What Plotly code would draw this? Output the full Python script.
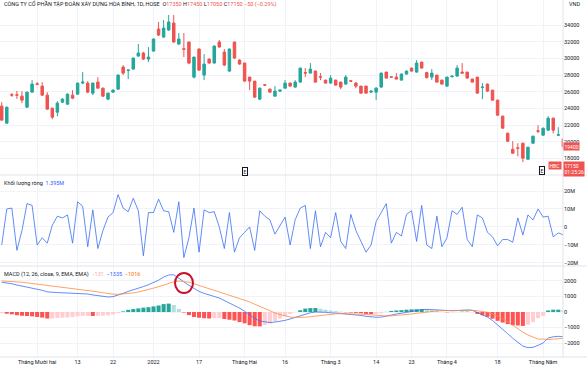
import plotly.graph_objects as go

# ---------------- data ----------------
opens = [24280, 22240, 25650, 25650, 25480, 24160, 25960, 26950, 26680, 25600,
         24040, 23560, 24760, 24520, 25600, 25720, 27040, 27040, 25840, 27160,
         26440, 25120, 25960, 26320, 28960, 28550, 28720, 30280, 30640, 29920,
         30880, 33520, 32560, 33400, 34240, 31720, 31150, 31960, 27760, 31120,
         28000, 29920, 29440, 31960, 30760, 28480, 31960, 29800, 29440, 27760,
         27280, 25120, 26850, 26320, 25480, 26080, 26440, 27040, 26560, 27160,
         28300, 28240, 28480, 27800, 27400, 27040, 27400, 27160, 26920, 27320,
         27040, 26680, 26680, 25960, 25960, 26560, 28360, 27800, 27760, 27400,
         28120, 28840, 28360, 29560, 28300, 27760, 28000, 27400, 26680, 27800,
         27880, 28360, 28360, 27520, 27760, 26520, 26920, 26200, 25000, 23080,
         21040, 19120, 19280, 19840, 17920, 19840, 21320, 20800, 21400, 22840,
         20800, 20350]
highs = [24760, 24200, 25850, 26100, 26080, 26000, 27400, 27160, 27160, 25960,
         24100, 24880, 25240, 25800, 26200, 27100, 28360, 27280, 27100, 27760,
         26500, 25900, 26300, 28100, 29200, 28720, 30100, 31720, 30800, 31360,
         32400, 34360, 34600, 35200, 35200, 33040, 33040, 32000, 30200, 31200,
         30520, 30000, 31550, 32200, 31120, 31200, 32000, 29900, 29500, 27800,
         27300, 26500, 26900, 26400, 26680, 26250, 27400, 27100, 27400, 28900,
         28840, 29440, 28550, 28240, 27450, 28000, 27450, 27200, 28000, 27400,
         27160, 26700, 26700, 26150, 26560, 28300, 28400, 27850, 28240, 28200,
         28550, 28900, 29800, 29600, 28400, 28720, 28050, 27450, 27800, 27950,
         29200, 29440, 28400, 27600, 27800, 27040, 27000, 26250, 25050, 23150,
         21100, 20080, 19840, 19900, 19400, 20750, 22000, 21700, 23080, 22900,
         21760, 20400]
lows = [22600, 22200, 25400, 25150, 24640, 24100, 25900, 26800, 25480, 23900,
        22720, 23080, 24640, 24450, 25120, 25650, 26920, 25840, 25600, 26400,
        25360, 25000, 25900, 26250, 28000, 27520, 28650, 30200, 29800, 29560,
        30800, 32680, 32440, 33300, 31900, 31600, 30160, 29300, 27600, 28500,
        27400, 29400, 29400, 31300, 29080, 28400, 29950, 29250, 27200, 26200,
        25300, 25000, 26700, 25900, 25400, 26000, 26350, 26600, 26500, 27100,
        27760, 28200, 27100, 27400, 27000, 27000, 26750, 26320, 26850, 27200,
        26440, 25800, 25800, 25900, 25000, 26500, 27600, 27700, 27480, 27350,
        28050, 28400, 28300, 28800, 27600, 27400, 27100, 26850, 26600, 27750,
        27800, 28200, 27600, 27100, 25800, 25120, 26000, 24950, 23150, 21600,
        20000, 18600, 18280, 17560, 17850, 19800, 21040, 20750, 21350, 21000,
        20680, 19300]
closes = [22600, 24160, 25600, 25600, 25000, 25960, 26920, 26900, 25600, 23920,
          22960, 24640, 25120, 25720, 25240, 27040, 27160, 25960, 27040, 26440,
          25480, 25840, 26200, 28000, 28240, 28600, 30040, 30640, 29920, 30160,
          32320, 32800, 33640, 34360, 31960, 32320, 31100, 29440, 30160, 28600,
          29320, 29440, 31480, 31360, 29200, 31120, 30040, 29320, 27280, 27280,
          25360, 26440, 26800, 25960, 26080, 26200, 27040, 26680, 27160, 28840,
          28240, 28720, 27160, 27760, 27040, 27640, 26800, 26560, 27760, 27280,
          26680, 25840, 25840, 26080, 26440, 28240, 27640, 27760, 27520, 28120,
          28480, 28480, 29440, 28840, 27700, 28240, 27160, 26920, 27760, 27880,
          28840, 28240, 27640, 27160, 25840, 26560, 26080, 25000, 23200, 21640,
          20080, 18640, 19240, 18040, 19360, 20680, 21280, 21640, 22840, 21400,
          20850, 19400]

# net volume (millions)
net_volume = [-10, 10, 10.5, -13, -2, 13, 12, -10, -6, -9,
              1, 6, 5, 6.7, -9, 14, 11.5, -11, 9.5, -12,
              -2, 5.5, 8, 18, 10.5, 8.5, 16, 9, -16, 8,
              8, 15.5, 9, 8.5, -3, 14, -17, -6, 10.5, -14,
              9.5, 8, 8.5, 0, -12, 8, -14, -6, -3, 0,
              -13, 9, 6, 4, -4, 1, 5.5, -10, 4, 10.5,
              12, -12, 9, -11, -3, -6, 8, -8, -12, 7,
              -2, -8, -14, -10, 3, 8, 13, -9, -3, -5,
              7, 9, -8, 12, -10, -12, 6, -11, -6, 9,
              7, 11, -7, -11, 6.7, 5, -3, -5.5, -10.5, -7,
              -7, -8.5, 5, -4.5, 6.7, 3.9, 10, 5.5, 6, -5.5,
              -3.3, -4.4]

macd = [1920, 1880, 1820, 1740, 1680, 1620, 1560, 1480, 1400, 1300,
        1260, 1250, 1240, 1230, 1220, 1220, 1210, 1160, 1100, 1050,
        1000, 970, 990, 1080, 1200, 1330, 1420, 1520, 1640, 1760,
        1900, 2050, 2250, 2390, 2400, 2200, 1950, 1720, 1500, 1330,
        1200, 1080, 1000, 900, 750, 600, 450, 250, 50, -200,
        -420, -580, -650, -680, -650, -600, -540, -450, -350, -250,
        -120, -50, 0, 0, -20, -50, -60, -90, -130, -150,
        -180, -220, -280, -320, -340, -330, -250, -180, -130, -80,
        -20, 40, 90, 150, 170, 150, 140, 110, 80, 80,
        90, 120, 130, 110, -40, -170, -330, -550, -820, -1100,
        -1400, -1700, -1950, -2200, -2300, -2280, -2150, -2000, -1680, -1600,
        -1570, -1600]
signal = [2000, 1990, 1970, 1950, 1920, 1880, 1840, 1800, 1760, 1720,
          1680, 1640, 1610, 1580, 1540, 1500, 1460, 1410, 1360, 1300,
          1240, 1190, 1150, 1140, 1160, 1190, 1230, 1290, 1360, 1450,
          1540, 1630, 1740, 1850, 1950, 2000, 1980, 1920, 1820, 1700,
          1600, 1500, 1400, 1300, 1200, 1100, 1000, 900, 780, 650,
          500, 350, 200, 60, -60, -170, -260, -320, -350, -360,
          -340, -300, -260, -210, -170, -140, -120, -110, -110, -115,
          -125, -140, -160, -190, -220, -250, -260, -250, -230, -200,
          -170, -130, -90, -40, 0, 40, 70, 90, 100, 100,
          100, 100, 105, 110, 80, 40, -20, -120, -250, -420,
          -620, -850, -1080, -1300, -1480, -1630, -1750, -1740, -1780, -1750,
          -1720, -1700]

tick_idx = [7, 15, 22, 30, 39, 48, 56, 65, 74, 81, 88, 98, 107]
tick_text = ["Tháng Mười hai", "13", "22", "2022", "17", "Tháng Hai", "16",
             "Tháng 3", "14", "23", "Tháng 4", "18", "Tháng Năm"]

price_ticks = [18000, 20000, 22000, 24000, 26000, 28000, 30000, 32000, 34000]
vol_ticks = [-20, -10, 0, 10, 20]
vol_tick_text = ["−20M", "−10M", "0", "10M", "20M"]
macd_ticks = [-2000, -1000, 0, 1000, 2000]
macd_tick_text = ["−2000", "−1000", "0", "1000", "2000"]

current_price = 17150

# ---------------- styling ----------------
UP = "#26A69A"
DOWN = "#EF5350"
TXT = "#131722"
GRID = "#F0F3FA"
SEP = "#E0E3EB"
FONT = "Roboto"
FS = 5.5

idx = list(range(len(closes)))
hist = [m - s for m, s in zip(macd, signal)]
hist_colors = []
for i, h in enumerate(hist):
    prev = hist[i - 1] if i > 0 else h
    if h >= 0:
        hist_colors.append("#26A69A" if h >= prev else "#B2DFDB")
    else:
        hist_colors.append("#FF5252" if h < prev else "#FFCDD2")

fig = go.Figure()
fig.add_trace(go.Candlestick(
    x=idx, open=opens, high=highs, low=lows, close=closes,
    xaxis="x", yaxis="y", whiskerwidth=0,
    increasing=dict(line=dict(color=UP, width=1), fillcolor=UP),
    decreasing=dict(line=dict(color=DOWN, width=1), fillcolor=DOWN),
    showlegend=False, hoverinfo="skip"))
fig.add_trace(go.Scatter(x=idx, y=net_volume, xaxis="x", yaxis="y2", mode="lines",
                         line=dict(color="#3B6EF5", width=0.8), showlegend=False,
                         hoverinfo="skip"))
fig.add_trace(go.Bar(x=idx, y=hist, xaxis="x", yaxis="y3",
                     marker=dict(color=hist_colors, line=dict(width=0)),
                     showlegend=False, hoverinfo="skip"))
fig.add_trace(go.Scatter(x=idx, y=macd, xaxis="x", yaxis="y3", mode="lines",
                         line=dict(color="#3B6EF5", width=0.8), showlegend=False,
                         hoverinfo="skip"))
fig.add_trace(go.Scatter(x=idx, y=signal, xaxis="x", yaxis="y3", mode="lines",
                         line=dict(color="#FF8A3D", width=0.8), showlegend=False,
                         hoverinfo="skip"))

W, H = 587, 375
L, R, T, B = 0, 24, 0, 18
PH = H - T - B  # 357
PW = W - L - R  # 563


def py(px):
    return 1 - px / PH


def pxx(px):
    return px / PW


yax_common = dict(side="right", anchor="x", showgrid=True, gridcolor=GRID, gridwidth=1,
                  zeroline=False, showline=False, ticks="", automargin=False,
                  tickfont=dict(family=FONT, size=FS, color=TXT), fixedrange=True)

fig.update_layout(
    width=W, height=H,
    margin=dict(l=L, r=R, t=T, b=B, pad=0),
    paper_bgcolor="white", plot_bgcolor="white",
    font=dict(family=FONT, size=FS, color=TXT),
    bargap=0.2, boxgap=0.3,
    xaxis=dict(domain=[0, 1], anchor="y3", range=[-0.34, 110.93],
               tickmode="array", tickvals=tick_idx, ticktext=tick_text,
               showgrid=True, gridcolor=GRID, zeroline=False, showline=False, ticks="",
               automargin=False,
               tickfont=dict(family=FONT, size=FS, color=TXT),
               rangeslider=dict(visible=False), fixedrange=True),
    yaxis=dict(domain=[py(175), 1], range=[16030, 37000], tickmode="array",
               tickvals=price_ticks, ticktext=[str(v) for v in price_ticks], **yax_common),
    yaxis2=dict(domain=[py(266), py(175)], range=[-21.7, 28.9], tickmode="array",
                tickvals=vol_ticks, ticktext=vol_tick_text, **yax_common),
    yaxis3=dict(domain=[0, py(266)], range=[-2903, 2967], tickmode="array",
                tickvals=macd_ticks, ticktext=macd_tick_text, **yax_common),
)

shapes = []
for yy in (py(175), py(266), 0):
    shapes.append(dict(type="line", xref="paper", yref="paper", x0=0, x1=W / PW,
                       y0=yy, y1=yy, line=dict(color=SEP, width=1)))
shapes.append(dict(type="line", xref="paper", yref="paper", x0=1, x1=1, y0=0, y1=1,
                   line=dict(color=SEP, width=1)))
# red highlight ring on the MACD cross
shapes.append(dict(type="circle", xref="paper", yref="paper",
                   x0=pxx(175), x1=pxx(193), y0=py(293), y1=py(273),
                   line=dict(color="#C8102E", width=2)))
fig.update_layout(shapes=shapes)

ann = []
title = ("CÔNG TY CỔ PHẦN TẬP ĐOÀN XÂY DỰNG HÒA BÌNH, 1D, HOSE&nbsp;&nbsp;"
         "O<span style='color:#EF5350'>17350</span> "
         "H<span style='color:#EF5350'>17450</span> "
         "L<span style='color:#EF5350'>17050</span> "
         "C<span style='color:#EF5350'>17150</span> "
         "<span style='color:#EF5350'>−50 (−0.29%)</span>")
ann.append(dict(text=title, xref="paper", yref="paper", x=pxx(2), y=py(4),
                xanchor="left", yanchor="middle", showarrow=False,
                font=dict(family=FONT, size=FS, color=TXT)))
ann.append(dict(text="Khối lượng ròng&nbsp;&nbsp;<span style='color:#2962FF'>1.395M</span>",
                xref="paper", yref="paper", x=pxx(2), y=py(183),
                xanchor="left", yanchor="middle", showarrow=False,
                font=dict(family=FONT, size=FS, color=TXT)))
ann.append(dict(text=("MACD (12, 26, close, 9, EMA, EMA)&nbsp;&nbsp;"
                      "<span style='color:#F7A5A5'>−131</span>&nbsp;&nbsp;"
                      "<span style='color:#2962FF'>−1335</span>&nbsp;&nbsp;"
                      "<span style='color:#FF6D00'>−1016</span>"),
                xref="paper", yref="paper", x=pxx(2), y=py(274),
                xanchor="left", yanchor="middle", showarrow=False,
                font=dict(family=FONT, size=FS, color=TXT)))
ann.append(dict(text="VND", xref="paper", yref="paper", x=pxx(567), y=py(4),
                xanchor="left", yanchor="middle", showarrow=False,
                font=dict(family=FONT, size=FS, color=TXT)))
# E markers
for ex, ey in ((245, 171), (542, 170)):
    ann.append(dict(text="E", xref="paper", yref="paper", x=pxx(ex), y=py(ey),
                    xanchor="center", yanchor="middle", showarrow=False,
                    font=dict(family=FONT, size=5, color=TXT),
                    bgcolor="white", bordercolor=TXT, borderwidth=1, borderpad=0.5))
# price boxes on the axis
ann.append(dict(text=str(closes[-1]), xref="paper", yref="y", x=1.0, y=closes[-1],
                xanchor="left", yanchor="middle", showarrow=False,
                font=dict(family=FONT, size=5, color="white"),
                bgcolor=DOWN, borderpad=0.5))
ann.append(dict(text="HBC", xref="paper", yref="y", x=0.998, y=current_price,
                xanchor="right", yanchor="middle", showarrow=False,
                font=dict(family=FONT, size=5, color="white"),
                bgcolor=DOWN, borderpad=0.5))
ann.append(dict(text=f"{current_price}<br>01:25:26", xref="paper", yref="y", x=1.0,
                y=current_price, yshift=-3, xanchor="left", yanchor="middle",
                showarrow=False, align="left",
                font=dict(family=FONT, size=5, color="white"),
                bgcolor=DOWN, borderpad=0.5))
fig.update_layout(annotations=ann)

fig.write_html(
    "out.html",
    config={"displayModeBar": False, "staticPlot": True},
    post_script="document.body.style.margin='0';document.documentElement.style.overflow='hidden';",
)
